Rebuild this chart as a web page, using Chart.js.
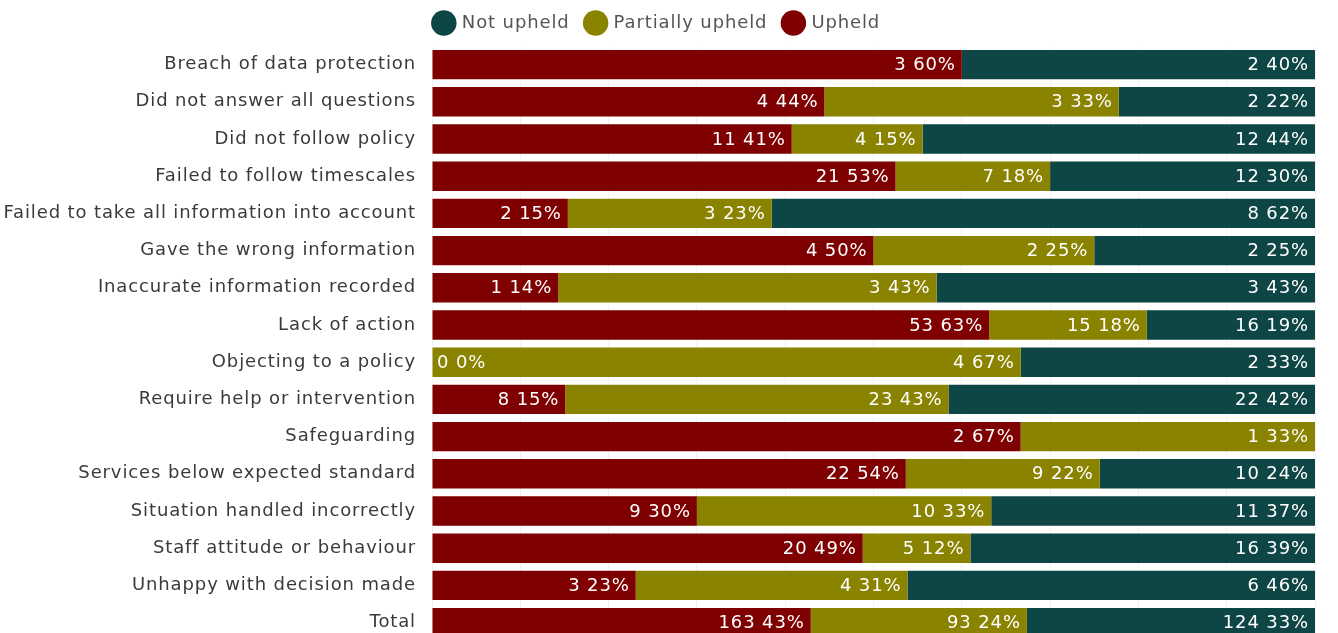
<!DOCTYPE html>
<html><head><meta charset="utf-8">
<script src="https://cdn.jsdelivr.net/npm/chart.js@4/dist/chart.umd.min.js"></script>
<style>html,body{margin:0;padding:0;background:#fff;overflow:hidden}#wrap{width:1338px;height:668px;position:relative}</style>
</head><body><div id="wrap"><canvas id="c"></canvas></div>
<script>
const categories = ["Breach of data protection","Did not answer all questions","Did not follow policy","Failed to follow timescales","Failed to take all information into account","Gave the wrong information","Inaccurate information recorded","Lack of action","Objecting to a policy","Require help or intervention","Safeguarding","Services below expected standard","Situation handled incorrectly","Staff attitude or behaviour","Unhappy with decision made","Total"];
const upheldCounts =   [3, 4, 11, 21, 2, 4, 1, 53, 0, 8, 2, 22, 9, 20, 3, 163];
const upheldPct =      [60, 44, 41, 53, 15, 50, 14, 63, 0, 15, 67, 54, 30, 49, 23, 43];
const partialCounts =  [null, 3, 4, 7, 3, 2, 3, 15, 4, 23, 1, 9, 10, 5, 4, 93];
const partialPct =     [null, 33, 15, 18, 23, 25, 43, 18, 67, 43, 33, 22, 33, 12, 31, 24];
const notUpheldCounts =[2, 2, 12, 12, 8, 2, 3, 16, 2, 22, null, 10, 11, 16, 6, 124];
const notUpheldPct =   [40, 22, 44, 30, 62, 25, 43, 19, 33, 42, null, 24, 37, 39, 46, 33];

const rowTotals = categories.map((_, i) => (upheldCounts[i]||0) + (partialCounts[i]||0) + (notUpheldCounts[i]||0));
const share = (arr) => arr.map((v, i) => v === null ? null : v / rowTotals[i] * 100);

const FONT = "'DejaVu Sans', Verdana, sans-serif";
const SPACING = '0.88px';

const spacingPlugin = {
  id: 'spacing',
  beforeInit(chart) { chart.ctx.letterSpacing = SPACING; },
  beforeUpdate(chart) { chart.ctx.letterSpacing = SPACING; },
  beforeDraw(chart) { chart.ctx.letterSpacing = SPACING; }
};

const labelPlugin = {
  id: 'segLabels',
  afterDatasetsDraw(chart) {
    const ctx = chart.ctx;
    ctx.save();
    ctx.letterSpacing = SPACING;
    ctx.font = "18px " + FONT;
    ctx.fillStyle = '#ffffff';
    ctx.textBaseline = 'middle';
    chart.data.datasets.forEach((ds, di) => {
      const meta = chart.getDatasetMeta(di);
      meta.data.forEach((bar, i) => {
        const c = ds.counts[i];
        if (c === null || c === undefined) return;
        const txt = c + ' ' + ds.pcts[i] + '%';
        const w = ctx.measureText(txt).width;
        const start = Math.min(bar.base, bar.x);
        const end = Math.max(bar.base, bar.x);
        let x = end - 6;
        if (x - w < start + 5) x = start + 5 + w;
        ctx.textAlign = 'right';
        ctx.fillText(txt, x, bar.y + 1);
      });
    });
    ctx.restore();
  }
};

new Chart(document.getElementById('c'), {
  type: 'bar',
  data: {
    labels: categories,
    datasets: [
      {label: 'Upheld', data: share(upheldCounts), counts: upheldCounts, pcts: upheldPct, backgroundColor: '#7f0000'},
      {label: 'Partially upheld', data: share(partialCounts), counts: partialCounts, pcts: partialPct, backgroundColor: '#8a8300'},
      {label: 'Not upheld', data: share(notUpheldCounts), counts: notUpheldCounts, pcts: notUpheldPct, backgroundColor: '#0e4646'}
    ]
  },
  options: {
    indexAxis: 'y',
    responsive: true,
    maintainAspectRatio: false,
    animation: false,
    datasets: {bar: {barPercentage: 0.79, categoryPercentage: 1, borderWidth: 0}},
    layout: {padding: {left: 0, right: 23, top: -3, bottom: 10}},
    plugins: {
      legend: {
        display: true,
        position: 'top',
        reverse: true,
        labels: {
          usePointStyle: true, pointStyle: 'circle', boxWidth: 18, boxHeight: 18,
          color: '#555', font: {family: FONT, size: 18}, padding: 17
        }
      },
      tooltip: {enabled: false}
    },
    scales: {
      x: {
        position: 'top',
        stacked: true, min: 0, max: 100,
        ticks: {display: false, stepSize: 10},
        grid: {color: '#f2f2f2', drawTicks: false},
        border: {display: false},
        afterFit(scale) { scale.height = 4; }
      },
      y: {
        stacked: true,
        ticks: {color: '#3a3a3a', font: {family: FONT, size: 18}, padding: 16},
        grid: {display: false, drawTicks: false},
        border: {display: false},
        afterFit(scale) { scale.width = 432; }
      }
    }
  },
  plugins: [spacingPlugin, labelPlugin]
});
</script></body></html>
